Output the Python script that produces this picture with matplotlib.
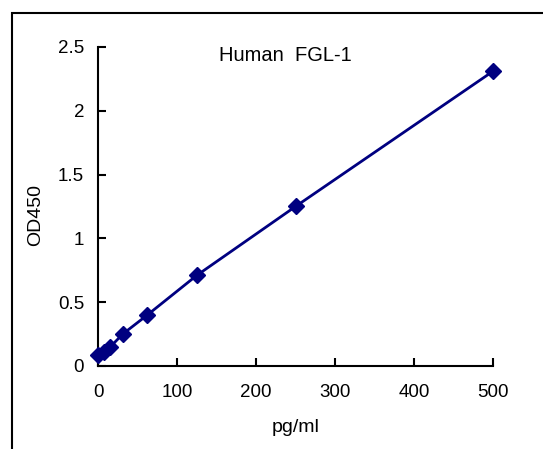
import matplotlib.pyplot as plt
from matplotlib.patches import Rectangle

plt.rcParams['font.family'] = ['Liberation Sans', 'DejaVu Sans']

conc = [0, 7.8, 15.6, 31.25, 62.5, 125, 250, 500]
od = [0.09, 0.11, 0.15, 0.25, 0.40, 0.71, 1.25, 2.31]

fig = plt.figure(figsize=(5.43, 4.49), dpi=100)
fig.patches.append(Rectangle((12 / 543, -0.1), 1.2, 1 - 13 / 449 + 0.1,
                             transform=fig.transFigure, fill=False,
                             edgecolor='black', linewidth=1.5))
ax = fig.add_axes([98 / 543, 83 / 449, 395 / 543, 319 / 449])

ax.plot(conc, od, color='#000080', linewidth=2, marker='D', markersize=8.5,
        clip_on=False, zorder=3)

ax.set_xlim(0, 500)
ax.set_ylim(0, 2.5)
ax.set_xticks([0, 100, 200, 300, 400, 500])
ax.set_yticks([0, 0.5, 1, 1.5, 2, 2.5])
ax.set_yticklabels(['0', '0.5', '1', '1.5', '2', '2.5'])
for s in ['top', 'right']:
    ax.spines[s].set_visible(False)
for s in ['left', 'bottom']:
    ax.spines[s].set_linewidth(1.5)
ax.tick_params(direction='in', length=6, width=1.5, labelsize=13.5)
ax.tick_params(axis='y', pad=10)
ax.tick_params(axis='x', pad=13)

ax.set_xlabel('pg/ml', fontsize=14, va='center')
ax.xaxis.set_label_coords(0.50, -0.194)
ax.set_ylabel('OD450', fontsize=14, va='center')
ax.yaxis.set_label_coords(-0.159, 0.473)
ax.text(0.475, 0.972, 'Human  FGL-1', transform=ax.transAxes, fontsize=14.5,
        ha='center', va='center')

fig.savefig('out.png', dpi=100)
